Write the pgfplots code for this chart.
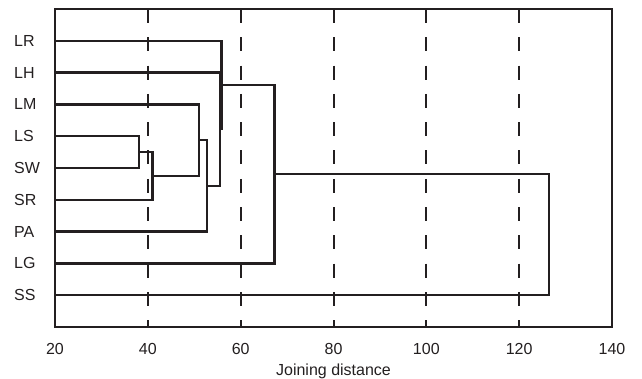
\documentclass[border=0pt]{standalone}
\usepackage{fontspec}
\setmainfont{Liberation Sans}
\usepackage{pgfplots}
\pgfplotsset{compat=1.18}
\definecolor{ink}{HTML}{231F20}
\tikzset{dend/.style={draw=ink, line width=2.5pt, mark=none, line join=miter, solid}}
\begin{document}
\begin{tikzpicture}
\begin{axis}[name=ax, scale only axis, width=557pt, height=318pt,
  xmin=20, xmax=140, ymin=0, ymax=10, y dir=reverse,
  xtick={20,40,...,140}, ytick={1,...,9},
  yticklabels={LR,LH,LM,LS,SW,SR,PA,LG,SS},
  major tick length=0pt,
  xmajorgrids,
  major grid style={ink, line width=2pt, dash pattern=on 14pt off 14.3pt},
  axis line style={ink, line width=2.5pt},
  tick label style={font=\fontsize{16}{19}\selectfont, text=ink},
  label style={font=\fontsize{16}{19}\selectfont, text=ink},
  /pgf/number format/assume math mode=true,
  xticklabel style={yshift=-13pt},
  yticklabel style={anchor=west, xshift=-41pt, inner sep=0pt},
  xlabel={Joining distance},
  xlabel style={yshift=-2pt},
]
\addplot[dend] coordinates {(20,4) (38.1,4) (38.1,5) (20,5)};
\addplot[dend] coordinates {(38.1,4.5) (41,4.5) (41,6) (20,6)};
\addplot[dend] coordinates {(20,3) (51,3) (51,5.25) (41,5.25)};
\addplot[dend] coordinates {(51,4.125) (52.8,4.125) (52.8,7) (20,7)};
\addplot[dend] coordinates {(20,2) (55.5,2) (55.5,5.5625) (52.8,5.5625)};
\addplot[dend] coordinates {(20,1) (55.9,1) (55.9,3.78) (55.5,3.78)};
\addplot[dend] coordinates {(55.9,2.39) (67.3,2.39) (67.3,8) (20,8)};
\addplot[dend] coordinates {(67.3,5.195) (126.4,5.195) (126.4,9) (20,9)};
\end{axis}
\pgfresetboundingbox
\path[use as bounding box] ([shift={(-55pt,-52pt)}]ax.south west) rectangle ([shift={(30pt,9pt)}]ax.north east);
\end{tikzpicture}
\end{document}
